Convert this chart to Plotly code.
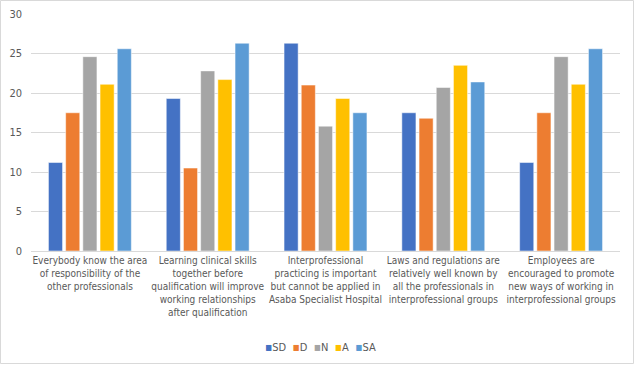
import plotly.graph_objects as go

categories = [
    "Everybody know the area<br>of responsibility of the<br>other professionals",
    "Learning clinical skills<br>together before<br>qualification will improve<br>working relationships<br>after qualification",
    "Interprofessional<br>practicing is important<br>but cannot be applied in<br>Asaba Specialist Hospital",
    "Laws and regulations are<br>relatively well known by<br>all the professionals in<br>interprofessional groups",
    "Employees are<br>encouraged to promote<br>new ways of working in<br>interprofessional groups",
]
SD = [11.2, 19.3, 26.3, 17.5, 11.2]
D = [17.5, 10.5, 21.0, 16.8, 17.5]
N = [24.6, 22.8, 15.8, 20.7, 24.6]
A = [21.1, 21.7, 19.3, 23.5, 21.1]
SA = [25.6, 26.3, 17.5, 21.4, 25.6]

names = ["SD", "D", "N", "A", "SA"]
colors = ["#4472C4", "#ED7D31", "#A5A5A5", "#FFC000", "#5B9BD5"]
values = [SD, D, N, A, SA]

FONT = "DejaVu Sans Condensed, Liberation Sans, sans-serif"

fig = go.Figure()
for name, vals, color in zip(names, values, colors):
    fig.add_trace(go.Bar(x=categories, y=vals, name=name, showlegend=False,
                         marker=dict(color=color, line=dict(color="white", width=0.5))))

W, H = 635, 365
ml, mr, mt, mb = 31, 15, 14, 114
pw, ph = W - ml - mr, H - mt - mb

legend_text = "  ".join(
    f"<span style='color:{c};font-size:12px'>▪</span>{n}" for n, c in zip(names, colors))

fig.update_layout(
    width=W, height=H,
    margin=dict(l=ml, r=mr, t=mt, b=mb),
    paper_bgcolor="white", plot_bgcolor="white",
    barmode="group", bargap=0.27, bargroupgap=0.18,
    font=dict(family=FONT, size=11, color="#595959"),
    xaxis=dict(showgrid=False, showline=True, linecolor="#D9D9D9",
               tickfont=dict(size=10, color="#595959"),
               ticks="", tickangle=0, automargin=False),
    yaxis=dict(range=[0, 30], dtick=5, showgrid=True, gridcolor="#D9D9D9", zeroline=False,
               tickfont=dict(size=11, color="#595959"), ticks="", showline=False,
               automargin=False, ticklabelstandoff=8),
    showlegend=False,
    annotations=[dict(text=legend_text, xref="paper", yref="paper", x=(320 - ml) / pw,
                      xanchor="center",
                      y=-(347 - (mt + ph)) / ph, yanchor="middle", showarrow=False,
                      font=dict(size=11, color="#595959"))],
    shapes=[dict(type="rect", xref="paper", yref="paper",
                 x0=(0.5 - ml) / pw, x1=(W - 1.5 - ml) / pw,
                 y0=-(H - 1.5 - mt - ph) / ph, y1=(mt - 0.5) / ph + 1,
                 line=dict(color="#D9D9D9", width=1))],
)
fig.write_html("out.html", config={"displayModeBar": False},
               post_script="document.body.style.margin='0';document.body.style.overflow='hidden';")
